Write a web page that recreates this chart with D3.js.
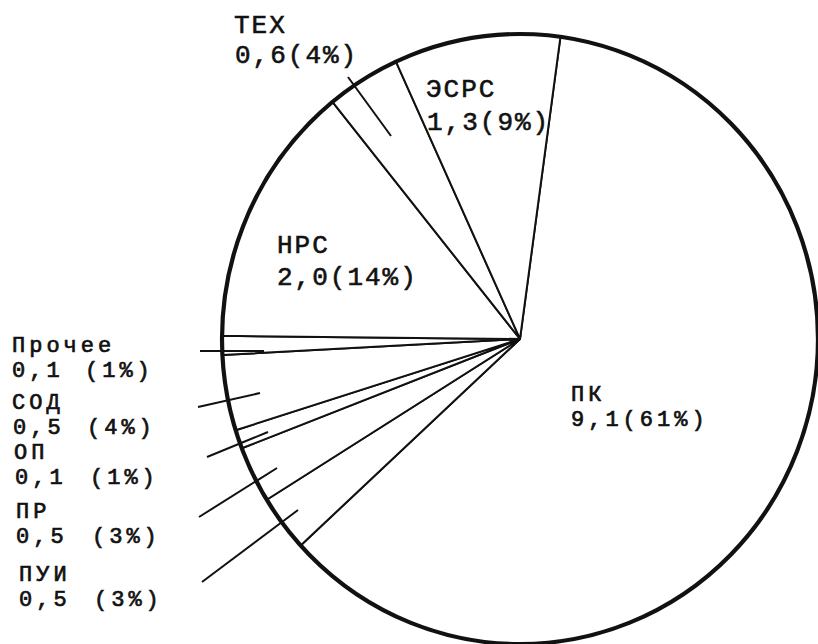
<!DOCTYPE html>
<html>
<head>
<meta charset="utf-8">
<script src="https://cdn.jsdelivr.net/npm/d3@7"></script>
<style>
  html, body { margin: 0; padding: 0; background: #fff; }
  svg { display: block; }
  text { font-family: "Liberation Mono", "DejaVu Sans Mono", monospace; fill: #111; }
</style>
</head>
<body>
<script>
// ---- data ----
const categories = ["ПК", "ПУИ", "ПР", "ОП", "СОД", "Прочее", "НРС", "ТЕХ", "ЭСРС"];
const values     = [9.1, 0.5, 0.5, 0.1, 0.5, 0.1, 2.0, 0.6, 1.3];
const percents   = [61, 3, 3, 1, 4, 1, 14, 4, 9];

// ---- layout (positions of labels / leader lines) ----
const W = 818, H = 644;
const cx = 520, cy = 339, rx = 298, ry = 305, R = 300;
const startDeg = 7.8;
// name: [x,y]; val: [x,y]; pct: [x,y] (null -> joined with value); big: larger type
const labelLayout = {
  "ПК":     { name: [571, 401], val: [571, 426], pct: null, big: false },
  "ТЕХ":    { name: [234, 33],  val: [235, 63],  pct: null, big: true },
  "ЭСРС":   { name: [426, 97],  val: [427, 130], pct: null, big: true },
  "НРС":    { name: [277, 253], val: [277, 285], pct: null, big: true },
  "Прочее": { name: [12, 352],  val: [12, 377],  pct: [85, 377], big: false },
  "СОД":    { name: [12, 409],  val: [13, 434],  pct: [87, 434], big: false },
  "ОП":     { name: [14, 459],  val: [15, 484],  pct: [90, 484], big: false },
  "ПР":     { name: [16, 518],  val: [16, 543],  pct: [92, 543], big: false },
  "ПУИ":    { name: [19, 581],  val: [19, 606],  pct: [94, 606], big: false }
};
const leaders = {
  "ТЕХ":    [[348, 77],  [391, 136]],
  "Прочее": [[200, 351], [264, 351]],
  "СОД":    [[198, 407], [260, 393]],
  "ОП":     [[207, 457], [268, 432]],
  "ПР":     [[199, 517], [277, 468]],
  "ПУИ":    [[202, 582], [298, 510]]
};

const svg = d3.select("body").append("svg")
  .attr("width", W).attr("height", H)
  .attr("viewBox", `0 0 ${W} ${H}`);

svg.append("rect").attr("width", W).attr("height", H).attr("fill", "#fff");

const start = startDeg * Math.PI / 180;
const pie = d3.pie()
  .sort(null)
  .value((d, i) => percents[i])
  .startAngle(start)
  .endAngle(start + 2 * Math.PI);
const arcs = pie(categories);
const arc = d3.arc().innerRadius(0).outerRadius(R);

const g = svg.append("g")
  .attr("transform", `translate(${cx},${cy}) scale(${rx / R},${ry / R})`);

g.selectAll("path.slice")
  .data(arcs)
  .join("path")
  .attr("class", "slice")
  .attr("d", arc)
  .attr("fill", "#fff")
  .attr("stroke", "#111")
  .attr("stroke-width", 2)
  .attr("stroke-linejoin", "round")
  .attr("vector-effect", "non-scaling-stroke");

// thick outer rim
g.append("circle")
  .attr("r", R)
  .attr("fill", "none")
  .attr("stroke", "#111")
  .attr("stroke-width", 4.2)
  .attr("vector-effect", "non-scaling-stroke");

// leader lines
svg.selectAll("line.leader")
  .data(categories.filter(c => leaders[c]))
  .join("line")
  .attr("class", "leader")
  .attr("x1", c => leaders[c][0][0]).attr("y1", c => leaders[c][0][1])
  .attr("x2", c => leaders[c][1][0]).attr("y2", c => leaders[c][1][1])
  .attr("stroke", "#111")
  .attr("stroke-width", 2);

// labels: one text block per slice, two lines as tspans
const fmtVal = v => d3.format(".1f")(v).replace(".", ",");
const lab = svg.append("g")
  .attr("stroke", "#111");

categories.forEach((c, i) => {
  const L = labelLayout[c];
  const t = lab.append("text")
    .attr("x", L.name[0]).attr("y", L.name[1])
    .attr("font-size", L.big ? 26 : 22)
    .attr("letter-spacing", L.big ? 2 : 4)
    .attr("stroke-width", L.big ? 0.6 : 0.7);
  t.append("tspan").attr("x", L.name[0]).attr("y", L.name[1]).text(c);
  if (L.pct) {
    t.append("tspan").attr("x", L.val[0]).attr("y", L.val[1]).text(fmtVal(values[i]));
    t.append("tspan").attr("x", L.pct[0]).attr("y", L.pct[1]).text(`(${percents[i]}%)`);
  } else {
    t.append("tspan").attr("x", L.val[0]).attr("y", L.val[1])
      .text(`${fmtVal(values[i])}(${percents[i]}%)`);
  }
});
</script>
</body>
</html>
